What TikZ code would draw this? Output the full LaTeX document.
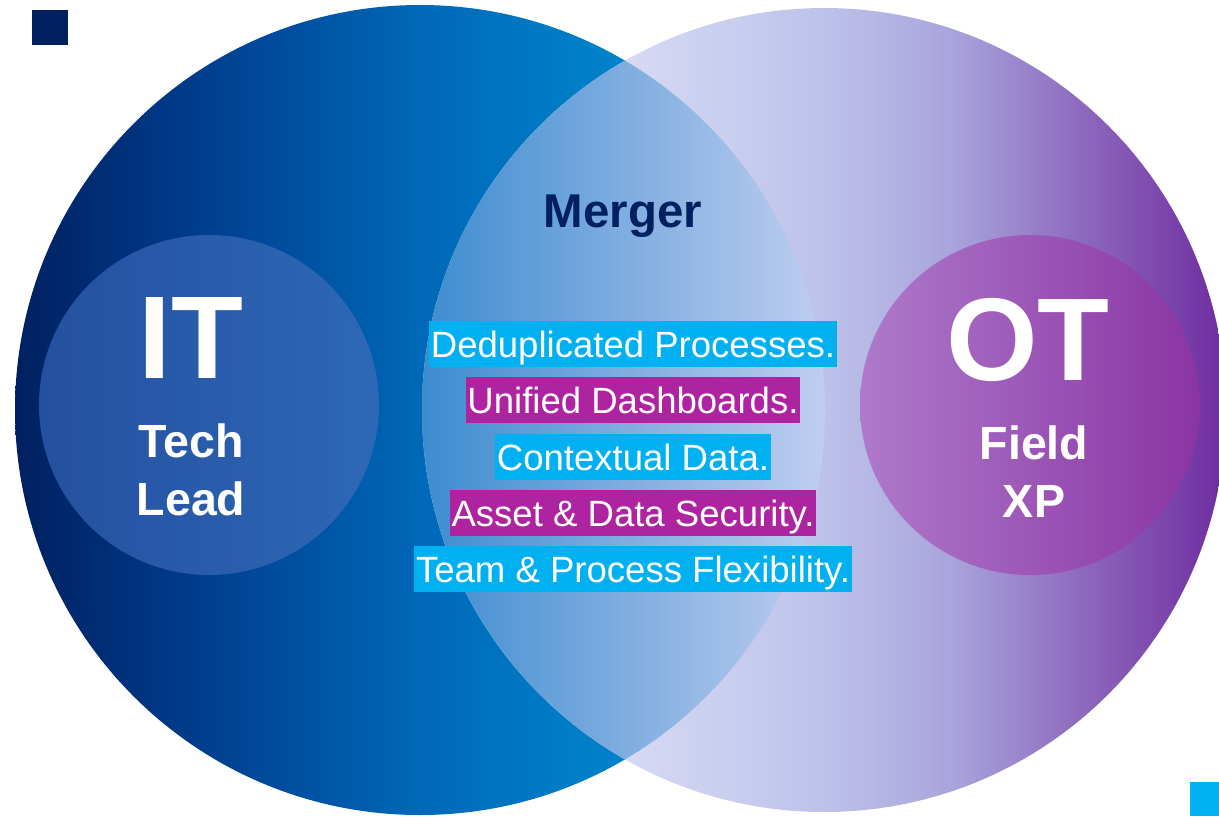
\documentclass[tikz,border=0pt]{standalone}
\usepackage{fontspec}
\setmainfont{Liberation Sans}
\usepackage{tikz}
\usetikzlibrary{positioning}

\definecolor{navy}{HTML}{002060}
\definecolor{tagcyan}{HTML}{00B0F0}
\definecolor{tagmag}{HTML}{AE23A0}
\definecolor{itA}{HTML}{002060}
\definecolor{itB}{HTML}{003C8C}
\definecolor{itC}{HTML}{0068B8}
\definecolor{itD}{HTML}{0084CC}
\definecolor{itE}{HTML}{0090D8}
\definecolor{otA}{HTML}{E4E6F8}
\definecolor{otB}{HTML}{D6DAF4}
\definecolor{otC}{HTML}{BEC2EA}
\definecolor{otD}{HTML}{A8A4DC}
\definecolor{otE}{HTML}{8A62BA}
\definecolor{otF}{HTML}{6E2CA0}
\definecolor{lensA}{HTML}{3D8CD0}
\definecolor{lensB}{HTML}{84BAE8}
\definecolor{lensC}{HTML}{C0CEF0}
\definecolor{itinA}{HTML}{2550A0}
\definecolor{itinB}{HTML}{2D68B6}
\definecolor{otinA}{HTML}{AE7ACA}
\definecolor{otinB}{HTML}{8A34A4}

\pgfdeclarehorizontalshading{itshade}{100bp}{color(0bp)=(itA); color(25bp)=(itA);
  color(36bp)=(itB); color(50bp)=(itC); color(62.5bp)=(itD); color(75bp)=(itE); color(100bp)=(itE)}
\pgfdeclarehorizontalshading{otshade}{100bp}{color(0bp)=(otA); color(25bp)=(otA);
  color(37.5bp)=(otB); color(50bp)=(otC); color(58bp)=(otD); color(67bp)=(otE); color(75bp)=(otF); color(100bp)=(otF)}

\begin{document}
\begin{tikzpicture}[x=0.02cm, y=0.02cm,
  bigname/.style={text=white, font=\bfseries\fontsize{67}{67}\selectfont},
  subname/.style={text=white, font=\bfseries\fontsize{26.5}{33}\selectfont, align=center},
  tag/.style={text=white, font=\fontsize{20.8}{24}\selectfont, inner xsep=1pt,
    inner ysep=5.6pt, text height=14.9pt, text depth=0pt},
  tagc/.style={tag, fill=tagcyan},
  tagm/.style={tag, fill=tagmag}]
  \clip (0,0) rectangle (1219,-816);

  % the two big circles
  \shade[shading=itshade] (420,-410) circle (405);
  \shade[shading=otshade] (824,-410) circle (402);

  % overlap
  \begin{scope}
    \clip (420,-410) circle (405);
    \clip (824,-410) circle (402);
    \shade[left color=lensA, middle color=lensB, right color=lensC] (422,0) rectangle (826,-816);
  \end{scope}

  % inner circles
  \shade[left color=itinA, right color=itinB] (209,-405) circle (170);
  \shade[left color=otinA, right color=otinB] (1030,-405) circle (170);

  % corner marks
  \fill[navy] (32,-10) rectangle (68,-45);
  \fill[tagcyan] (1190,-782) rectangle (1219,-816);

  \node[bigname, anchor=base] (it) at (191,-378) {IT};
  \node[subname] (itsub) at (191,-470) {Tech\\Lead};
  \node[bigname, anchor=base] (ot) at (1028,-380) {OT};
  \node[subname] (otsub) at (1034,-472) {Field\\XP};

  \node[text=navy, font=\bfseries\fontsize{27}{27}\selectfont, anchor=base] (merger) at (623,-227) {Merger};

  \node[tagc] (dedup) at (633,-344) {Deduplicated Processes.};
  \node[tagm] (dash) at (633,-400) {Unified Dashboards.};
  \node[tagc] (context) at (633,-457) {Contextual Data.};
  \node[tagm] (secure) at (633,-513) {Asset \& Data Security.};
  \node[tagc] (flex) at (633,-569) {Team \& Process Flexibility.};
\end{tikzpicture}
\end{document}
